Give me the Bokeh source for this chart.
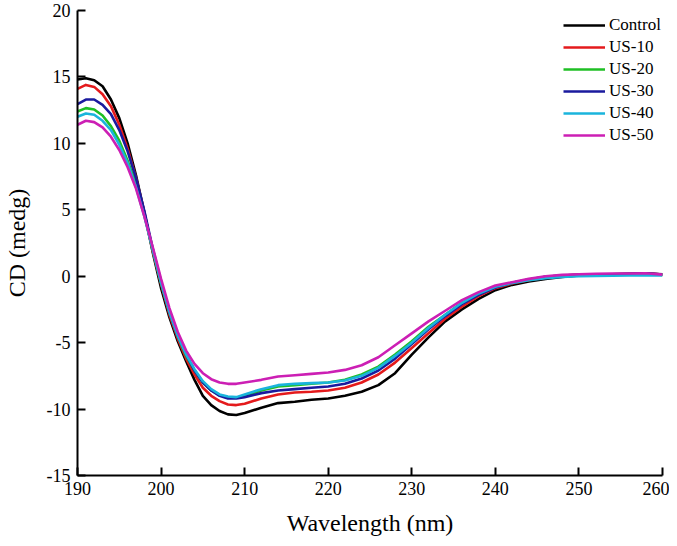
from bokeh.plotting import figure
from bokeh.models import Range1d, FixedTicker, Legend, LegendItem
from bokeh.embed import file_html
from bokeh.resources import INLINE

wavelength = [190, 191, 192, 193, 194, 195, 196, 197, 198, 199, 200, 201, 202, 203, 204, 205,
              206, 207, 208, 209, 210, 212, 214, 216, 218, 220, 222, 224, 226, 228, 230, 232,
              234, 236, 238, 240, 242, 244, 246, 248, 250, 252, 254, 256, 258, 260]

control = [14.8, 14.9, 14.75, 14.3, 13.3, 11.9, 10.0, 7.6, 4.8, 1.8, -0.9, -3.1, -4.9, -6.4, -7.8, -9.0,
           -9.7, -10.15, -10.4, -10.45, -10.3, -9.9, -9.55, -9.45, -9.3, -9.2, -9.0, -8.7, -8.2, -7.3, -5.9, -4.6,
           -3.4, -2.5, -1.7, -1.05, -0.65, -0.4, -0.2, -0.05, 0.05, 0.1, 0.12, 0.15, 0.2, 0.15]
us10 = [14.1, 14.4, 14.25, 13.7, 12.8, 11.4, 9.6, 7.4, 4.8, 1.9, -0.6, -2.9, -4.7, -6.2, -7.4, -8.4,
        -9.0, -9.4, -9.65, -9.7, -9.6, -9.2, -8.9, -8.75, -8.7, -8.6, -8.4, -8.0, -7.4, -6.5, -5.4, -4.3,
        -3.2, -2.3, -1.5, -0.9, -0.55, -0.3, -0.1, 0.05, 0.1, 0.12, 0.15, 0.18, 0.22, 0.12]
us20 = [12.4, 12.65, 12.55, 12.1, 11.3, 10.2, 8.7, 6.9, 4.6, 2.0, -0.5, -2.7, -4.5, -6.0, -7.1, -8.0,
        -8.6, -8.95, -9.15, -9.15, -9.0, -8.6, -8.3, -8.2, -8.1, -8.0, -7.8, -7.4, -6.8, -5.9, -4.9, -3.8,
        -2.9, -2.0, -1.3, -0.8, -0.5, -0.25, -0.05, 0.05, 0.1, 0.12, 0.15, 0.18, 0.2, 0.1]
us30 = [12.95, 13.3, 13.3, 12.9, 12.2, 11.0, 9.4, 7.4, 4.9, 2.1, -0.4, -2.7, -4.5, -5.9, -7.1, -8.0,
        -8.6, -9.0, -9.2, -9.2, -9.1, -8.8, -8.6, -8.5, -8.4, -8.3, -8.1, -7.7, -7.1, -6.2, -5.1, -4.0,
        -3.0, -2.1, -1.4, -0.85, -0.5, -0.25, -0.05, 0.05, 0.1, 0.12, 0.15, 0.18, 0.22, 0.12]
us40 = [12.0, 12.25, 12.15, 11.7, 11.0, 9.9, 8.5, 6.7, 4.5, 2.0, -0.5, -2.7, -4.5, -5.9, -7.0, -7.9,
        -8.5, -8.9, -9.05, -9.1, -8.9, -8.5, -8.2, -8.1, -8.05, -8.0, -7.85, -7.5, -6.9, -6.0, -5.0, -3.9,
        -2.9, -2.0, -1.3, -0.8, -0.5, -0.3, -0.15, -0.05, 0.0, 0.02, 0.03, 0.05, 0.08, 0.05]
us50 = [11.4, 11.7, 11.6, 11.2, 10.5, 9.5, 8.2, 6.6, 4.5, 2.2, -0.2, -2.4, -4.2, -5.6, -6.6, -7.3,
        -7.75, -8.0, -8.1, -8.1, -8.0, -7.8, -7.55, -7.45, -7.35, -7.25, -7.05, -6.7, -6.1, -5.2, -4.3, -3.4,
        -2.6, -1.8, -1.2, -0.7, -0.45, -0.2, 0.0, 0.1, 0.15, 0.18, 0.2, 0.2, 0.22, 0.12]

series_names = ["Control", "US-10", "US-20", "US-30", "US-40", "US-50"]
series_values = [control, us10, us20, us30, us40, us50]
series_colors = ["#000000", "#e41a1c", "#1fbf24", "#1a1a9e", "#1ab4dc", "#cc1fb4"]

x_ticks = [190, 200, 210, 220, 230, 240, 250, 260]
y_ticks = [-15, -10, -5, 0, 5, 10, 15, 20]

FONT = "Liberation Serif"

p = figure(width=669, height=540, output_backend="svg", toolbar_location=None,
           x_range=Range1d(190, 260), y_range=Range1d(-15, 20),
           min_border_left=73, min_border_right=7, min_border_top=10, min_border_bottom=65)
p.outline_line_color = None
p.xgrid.visible = False
p.ygrid.visible = False
p.background_fill_color = "white"
p.border_fill_color = "white"

for ax, ticks in ((p.xaxis[0], x_ticks), (p.yaxis[0], y_ticks)):
    ax.ticker = FixedTicker(ticks=ticks)
    ax.major_label_overrides = {t: str(t) for t in ticks}
    ax.minor_tick_line_color = None
    ax.major_tick_in = 8
    ax.major_tick_out = 0
    ax.axis_line_width = 2
    ax.major_tick_line_width = 2
    ax.axis_line_color = "black"
    ax.major_tick_line_color = "black"
    ax.major_label_text_font = FONT
    ax.major_label_text_font_size = "18px"
    ax.major_label_text_color = "black"
    ax.axis_label_text_font = FONT
    ax.axis_label_text_font_size = "24px"
    ax.axis_label_text_font_style = "normal"
    ax.axis_label_text_color = "black"

p.xaxis.axis_label = "Wavelength (nm)"
p.yaxis.axis_label = "CD (medg)"
p.xaxis.major_label_standoff = 6
p.xaxis.axis_label_standoff = 12
p.yaxis.major_label_standoff = 7
p.yaxis.axis_label_standoff = 14

items = []
for name, vals, col in zip(series_names, series_values, series_colors):
    r = p.line(wavelength, vals, line_color=col, line_width=2.6, line_join="round")
    items.append(LegendItem(label=name, renderers=[r]))

legend = Legend(items=items, location=(486, 330))
legend.border_line_color = None
legend.background_fill_alpha = 0
legend.padding = 0
legend.margin = 0
legend.spacing = 2
legend.glyph_width = 42
legend.glyph_height = 20
legend.label_height = 20
legend.label_standoff = 4
legend.label_text_font = FONT
legend.label_text_font_size = "17px"
legend.label_text_color = "black"
p.add_layout(legend)

open("out.html", "w").write(file_html(p, INLINE))
